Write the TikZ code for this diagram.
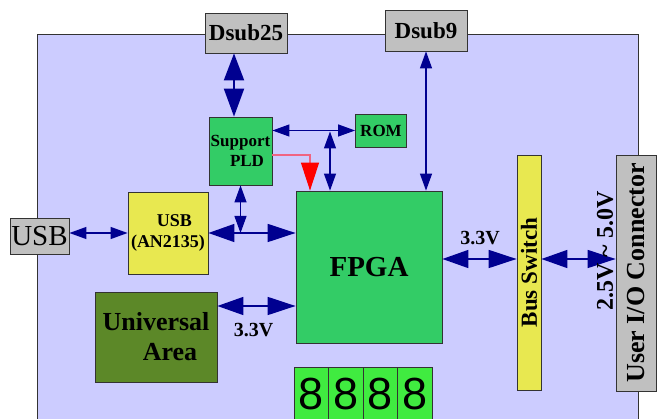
\documentclass[tikz,border=0pt]{standalone}
\usepackage{fontspec}
\IfFontExistsTF{LiberationSerif-Regular.ttf}
  {\setmainfont{LiberationSerif}[Extension=.ttf,UprightFont=*-Regular,BoldFont=*-Bold,ItalicFont=*-Italic,BoldItalicFont=*-BoldItalic]}
  {\setmainfont{Liberation Serif}}
\newfontfamily\segfont{Liberation Sans}
\usetikzlibrary{arrows.meta}
\definecolor{panelc}{RGB}{204,204,255}
\definecolor{navyc}{RGB}{0,0,144}
\definecolor{greenc}{RGB}{51,204,102}
\definecolor{yellowc}{RGB}{232,232,80}
\definecolor{olivec}{RGB}{92,136,40}
\definecolor{grayc}{RGB}{192,192,192}
\definecolor{segc}{RGB}{64,235,64}
\definecolor{redline}{RGB}{240,100,130}
\begin{document}
\begin{tikzpicture}[x=1pt,y=-1pt,
  box/.style={draw=black!80, line width=0.8pt, inner sep=0pt, align=center},
  fs/.style={font=\rmfamily\fontsize{#1}{#1}\selectfont\bfseries},
  sm/.style={navyc, line width=1.2pt, {Triangle[length=17pt,width=12pt]}-{Triangle[length=17pt,width=12pt]}},
  bg/.style={navyc, line width=1.5pt, {Triangle[length=26pt,width=18pt]}-{Triangle[length=28pt,width=18pt]}},
  lbl/.style={inner sep=0pt, font=\rmfamily\fontsize{20}{20}\selectfont\bfseries},
  seg/.style={box, fill=segc, minimum width=34.5pt, minimum height=54pt, font=\segfont\fontsize{45}{45}\selectfont}
]
\useasboundingbox (0,0) rectangle (661,419);
\filldraw[fill=panelc, draw=black!80, line width=0.8pt] (37,34) rectangle (638,440);

\node[box, fill=grayc, minimum width=82pt, minimum height=40pt, fs=23] (dsub25) at (246,33) {Dsub25};
\node[box, fill=grayc, minimum width=82pt, minimum height=41pt, fs=23] (dsub9) at (426,30.5) {Dsub9};
\node[box, fill=greenc, minimum width=51pt, minimum height=33pt, fs=17] (rom) at (381,130.5) {ROM};
\node[box, fill=greenc, minimum width=63pt, minimum height=68pt, font=\rmfamily\fontsize{17}{20}\selectfont\bfseries] (pld) at (240.5,151) {Support\\\hspace*{13pt}PLD};
\node[box, fill=yellowc, minimum width=80pt, minimum height=82pt, font=\rmfamily\fontsize{18}{21}\selectfont\bfseries] (usbchip) at (168,233) {\hspace*{13pt}USB\\(AN2135)};
\node[box, fill=grayc, minimum width=59pt, minimum height=36pt, font=\rmfamily\fontsize{29}{29}\selectfont] (usb) at (39.5,236) {USB};
\node[box, fill=olivec, minimum width=122pt, minimum height=90pt, font=\rmfamily\fontsize{26}{30}\selectfont\bfseries] (univ) at (156,337) {Universal\\\hspace*{28pt}Area};
\node[box, fill=greenc, minimum width=146pt, minimum height=152pt, fs=29] (fpga) at (369,267) {FPGA};
\node[box, fill=yellowc, minimum width=24pt, minimum height=235pt] (bus) at (529,272.5) {};
\node[rotate=90, inner sep=0pt, fs=23] (bustxt) at (bus.center) {Bus Switch};
\node[box, fill=grayc, minimum width=40pt, minimum height=236pt] (uio) at (636,273) {};
\node[rotate=90, inner sep=0pt, fs=26] (uiotxt) at (uio.center) {User I/O Connector};

\node[seg] (s1) at (311.25,394) {8};
\node[seg] (s2) at (345.75,394) {8};
\node[seg] (s3) at (380.25,394) {8};
\node[seg] (s4) at (414.75,394) {8};

% connectors
\coordinate (d25a) at ([xshift=-6.5pt]pld.north);
\draw[navyc, line width=2pt, {Triangle[length=27pt,width=20pt]}-{Triangle[length=28pt,width=20pt]}]
  (d25a |- dsub25.south) -- (d25a);
\draw[sm] (pld.east |- rom.west) -- (rom.west);
\coordinate (j1) at (330,131.5);
\draw[sm] (j1) -- (j1 |- fpga.north);
\coordinate (rx) at (310,0);
\coordinate (rs) at ([yshift=-4pt]pld.east);
\draw[redline, line width=1.2pt, -{Triangle[length=28pt,width=18pt,color=red]}]
  (rs) -| (rx |- fpga.north);
\draw[sm] (dsub9.south) -- (dsub9.south |- fpga.north);
\draw[sm] (pld.south) -- (pld.south |- usbchip.east);
\draw[sm] (usb.east |- usbchip.west) -- (usbchip.west);
\draw[bg] (usbchip.east) -- (fpga.west |- usbchip.east);
\coordinate (ua) at ([yshift=31pt]univ.east);
\draw[bg] (ua) -- (fpga.west |- ua);
\coordinate (fa) at ([yshift=8pt]fpga.east);
\draw[bg] (fa) -- (bus.west |- fa);
\draw[bg] (bus.east |- fa) -- (uio.west |- fa);

\node[lbl] (v1) at (253.5,330) {3.3V};
\node[lbl] (v2) at (480,238) {3.3V};
\node[rotate=90, inner sep=0pt, fs=24] (v3) at (605,251) {2.5V \textasciitilde{} 5.0V};
\end{tikzpicture}
\end{document}
